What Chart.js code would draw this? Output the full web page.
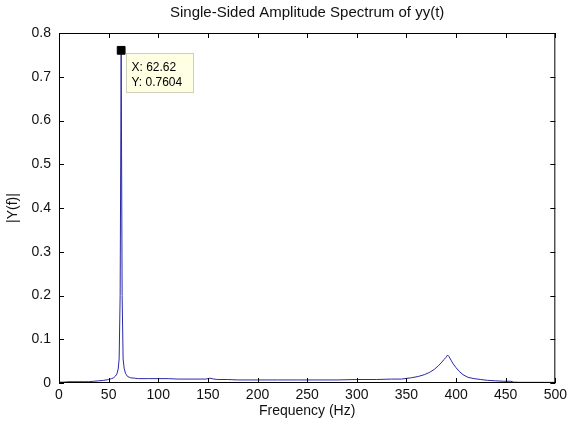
<!DOCTYPE html>
<html>
<head>
<meta charset="utf-8">
<script src="https://cdn.jsdelivr.net/npm/chart.js@4/dist/chart.umd.min.js"></script>
<style>
html,body{margin:0;padding:0;background:#fff;}
canvas{display:block;}
</style>
</head>
<body>
<canvas id="c" width="571" height="423"></canvas>
<script>
// ---- data ----
const freqHz = [0, 5, 10, 15, 20, 25, 30, 35, 40, 45,
  50, 53, 55, 57, 58.5, 59.6, 60.6, 61.6, 62.62, 63.6,
  64.6, 65.6, 67, 69, 72, 76, 80, 90, 100, 110,
  120, 130, 140, 148, 152, 156, 160, 170, 180, 200,
  220, 240, 260, 280, 300, 320, 335, 345, 355, 362,
  368, 373, 378, 382, 385, 388, 390, 391.5, 393, 395,
  397, 400, 403, 407, 412, 418, 425, 432, 440, 448,
  455, 458, 465, 475, 485, 500];
const amplitude = [0.002, 0.002, 0.003, 0.003, 0.003, 0.003, 0.003, 0.004, 0.005, 0.006,
  0.008, 0.010, 0.012, 0.016, 0.022, 0.032, 0.055, 0.2, 0.7604, 0.2,
  0.055, 0.034, 0.022, 0.015, 0.012, 0.011, 0.010, 0.010, 0.010, 0.010,
  0.009, 0.009, 0.009, 0.009, 0.011, 0.009, 0.008, 0.008, 0.007, 0.007,
  0.007, 0.007, 0.007, 0.007, 0.008, 0.008, 0.009, 0.009, 0.012, 0.015,
  0.019, 0.024, 0.031, 0.039, 0.046, 0.054, 0.059, 0.064, 0.060, 0.052,
  0.044, 0.035, 0.027, 0.019, 0.013, 0.010, 0.008, 0.006, 0.005, 0.004,
  0.004, 0.002, 0.0015, 0.0015, 0.0015, 0.0015];
const xTicks = [0, 50, 100, 150, 200, 250, 300, 350, 400, 450, 500];
const yTicks = [0, 0.1, 0.2, 0.3, 0.4, 0.5, 0.6, 0.7, 0.8];
const cursorX = [62.62];
const cursorY = [0.7604];
const cursorLabels = ['X: 62.62', 'Y: 0.7604'];
const titleText = 'Single-Sided Amplitude Spectrum of yy(t)';
const xLabel = 'Frequency (Hz)';
const yLabel = '|Y(f)|';

const FONT = "'Liberation Sans', Arial, sans-serif";

const framePlugin = {
  id: 'frame',
  afterDatasetsDraw(chart) {
    const {ctx, chartArea: a, scales: {x, y}} = chart;
    ctx.save();
    ctx.strokeStyle = '#000';
    ctx.lineWidth = 1;
    ctx.strokeRect(a.left + 0.5, a.top + 0.5, a.right - a.left - 1, a.bottom - a.top - 1);
    ctx.beginPath();
    const L = 5;
    x.ticks.forEach(t => {
      const px = Math.round(x.getPixelForValue(t.value)) + 0.5;
      ctx.moveTo(px, a.bottom); ctx.lineTo(px, a.bottom - L);
      ctx.moveTo(px, a.top); ctx.lineTo(px, a.top + L);
    });
    y.ticks.forEach(t => {
      const py = Math.round(y.getPixelForValue(t.value)) + 0.5;
      ctx.moveTo(a.left, py); ctx.lineTo(a.left + L, py);
      ctx.moveTo(a.right, py); ctx.lineTo(a.right - L, py);
    });
    ctx.stroke();
    ctx.restore();
  },
  afterDraw(chart) {
    const {ctx, scales: {x, y}} = chart;
    const px = x.getPixelForValue(cursorX[0]);
    const py = y.getPixelForValue(cursorY[0]);
    const bx = Math.round(px + 5) + 0.5, by = Math.round(py + 3) + 0.5;
    const bw = 67, bh = 39;
    ctx.save();
    ctx.fillStyle = '#ffffe4';
    ctx.strokeStyle = '#cfcfb8';
    ctx.lineWidth = 1;
    ctx.fillRect(bx, by, bw, bh);
    ctx.strokeRect(bx, by, bw, bh);
    ctx.fillStyle = '#000';
    ctx.font = '12px ' + FONT;
    ctx.textBaseline = 'alphabetic';
    ctx.textAlign = 'left';
    cursorLabels.forEach((s, i) => ctx.fillText(s, bx + 5, by + 17 + i * 15));
    ctx.restore();
  }
};

new Chart(document.getElementById('c'), {
  type: 'line',
  data: {
    datasets: [
      {
        data: freqHz.map((f, i) => ({x: f, y: amplitude[i]})),
        borderColor: '#2a2aa8',
        borderWidth: 1,
        pointRadius: 0,
        tension: 0,
        fill: false,
        order: 2
      },
      {
        data: cursorX.map((f, i) => ({x: f, y: cursorY[i]})),
        showLine: false,
        pointStyle: 'rect',
        pointRadius: 5.5,
        pointBackgroundColor: '#000',
        pointBorderColor: '#000',
        pointBorderWidth: 1,
        order: 1,
        clip: false
      }
    ]
  },
  options: {
    responsive: false,
    devicePixelRatio: 1,
    animation: false,
    events: [],
    layout: {padding: {left: 0, right: 12, top: 0, bottom: 0}},
    plugins: {legend: {display: false}, tooltip: {enabled: false}, title: {display: false}},
    scales: {
      x: {
        type: 'linear', position: 'bottom', min: 0, max: 500,
        afterBuildTicks: s => { s.ticks = xTicks.map(v => ({value: v})); },
        afterFit: s => { s.height = 40; },
        grid: {display: false, drawTicks: false},
        border: {display: false},
        ticks: {font: {family: FONT, size: 14}, color: '#111', padding: 4, maxRotation: 0, autoSkip: false,
          callback: v => String(v)},
        title: {display: true, text: xLabel, font: {family: FONT, size: 14}, color: '#111', padding: {top: 0, bottom: 3}}
      },
      xTop: {
        type: 'linear', position: 'top', min: 0, max: 500,
        afterFit: s => { s.height = 33; },
        grid: {display: false, drawTicks: false},
        border: {display: false},
        ticks: {display: false},
        title: {display: true, text: titleText, font: {family: FONT, size: 15}, color: '#111', padding: {top: 4, bottom: 0}}
      },
      y: {
        type: 'linear', position: 'left', min: 0, max: 0.8,
        afterBuildTicks: s => { s.ticks = yTicks.map(v => ({value: v})); },
        afterFit: s => { s.width = 59; },
        grid: {display: false, drawTicks: false},
        border: {display: false},
        ticks: {font: {family: FONT, size: 14}, color: '#111', padding: 8,
          callback: v => (v === 0 ? '0' : (+v).toFixed(1))},
        title: {display: true, text: yLabel, font: {family: FONT, size: 14}, color: '#111', padding: {top: 5, bottom: 0}}
      }
    }
  },
  plugins: [framePlugin]
});
</script>
</body>
</html>
